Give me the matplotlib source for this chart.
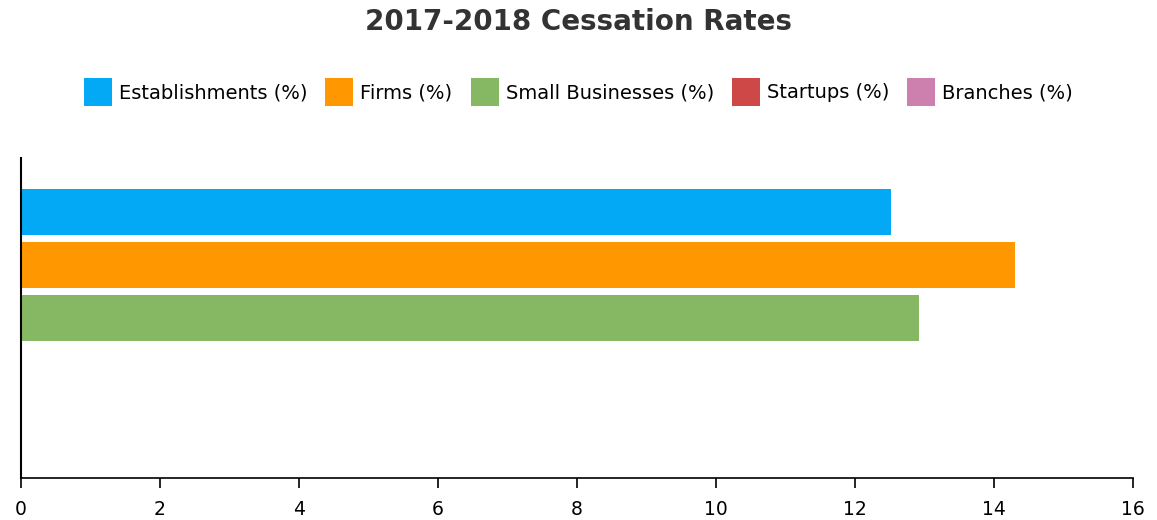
import numpy as np
import matplotlib
matplotlib.use("Agg")
import matplotlib.pyplot as plt

plt.rcParams["font.family"] = ["DejaVu Sans"]

# data
series = ["Establishments (%)", "Firms (%)", "Small Businesses (%)", "Startups (%)", "Branches (%)"]
values = [12.52, 14.30, 12.92, np.nan, np.nan]
colors = ["#03A9F4", "#FF9800", "#86B863", "#CF4848", "#CD80AE"]
xticks = [0, 2, 4, 6, 8, 10, 12, 14, 16]

fig = plt.figure(figsize=(11.57, 5.2), dpi=100)
ax = fig.add_axes([21 / 1157, 1 - 478 / 520, (1133 - 21) / 1157, 320 / 520])

handles = []
for i, (name, v, c) in enumerate(zip(series, values, colors)):
    b = ax.barh(i, v, height=0.868, color=c, edgecolor="none", label=name)
    handles.append(b)

ax.set_xlim(0, 16)
ax.set_ylim(4 + 1.02, -1.02)
ax.set_xticks(xticks)
ax.set_xticklabels([str(t) for t in xticks], fontsize=13.5)
ax.set_yticks([])
ax.tick_params(axis="x", length=7, width=1.2, pad=9)
for s in ["top", "right"]:
    ax.spines[s].set_visible(False)
ax.spines["left"].set_linewidth(1.5)
ax.spines["bottom"].set_linewidth(1.2)

fig.text(0.5, 1 - 22 / 520, "2017-2018 Cessation Rates", ha="center", va="center",
         fontsize=20, fontweight="bold", color="#333333")

fig.legend(handles=handles, loc="center", bbox_to_anchor=(0.5, 1 - 92 / 520), ncol=5,
           frameon=False, fontsize=14, handlelength=1.44, handleheight=1.8,
           handletextpad=0.36, columnspacing=0.93)

fig.savefig("out.png", dpi=100)
